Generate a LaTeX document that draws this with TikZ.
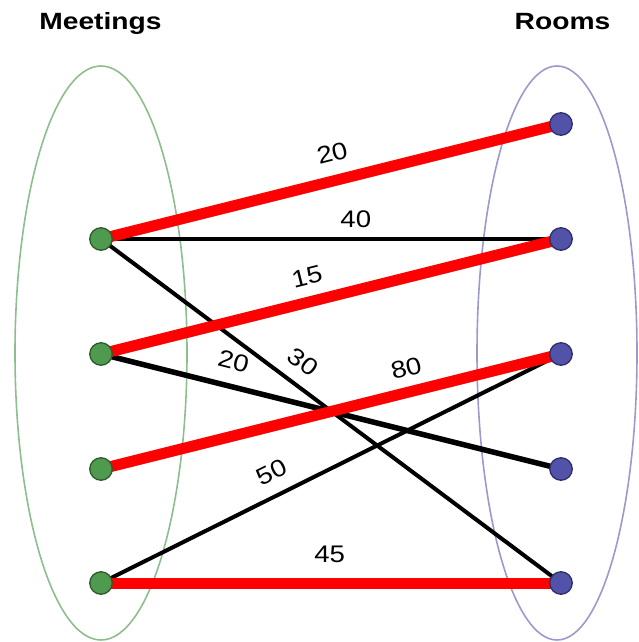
\documentclass[tikz,border=0pt]{standalone}
\usepackage{fontspec}
\setmainfont{Liberation Sans}
\definecolor{setgreen}{HTML}{8DBE8D}
\definecolor{setblue}{HTML}{9A9ACC}
\definecolor{meetfill}{HTML}{4E9A4E}
\definecolor{meetline}{HTML}{2E5A2E}
\definecolor{roomfill}{HTML}{5252A8}
\definecolor{roomline}{HTML}{2E2E6A}
\definecolor{matchred}{HTML}{FF0000}
\begin{document}
\begin{tikzpicture}[x=1pt,y=-1pt,
  meeting/.style={circle, fill=meetfill, draw=meetline, line width=1.3pt, minimum size=22.5pt, inner sep=0pt},
  room/.style={circle, fill=roomfill, draw=roomline, line width=1.3pt, minimum size=22.5pt, inner sep=0pt},
  matched/.style={draw=matchred, line width=11pt},
  unmatched/.style={draw=black, line width=4pt},
  weight/.style={font=\fontsize{24}{24}\selectfont, inner sep=0pt, sloped, xscale=1.15},
  title/.style={font=\bfseries\fontsize{23.5}{24}\selectfont, anchor=base, inner sep=0pt, xscale=1.2}
]
\useasboundingbox (0,0) rectangle (639,642);

% headings
\node[title] (tm) at (100.5,29.3) {Meetings};
\node[title] (tr) at (562.5,29.3) {Rooms};

% the two vertex sets
\draw[setgreen, line width=1.6pt] (101,353) ellipse [x radius=86, y radius=287];
\draw[setblue, line width=1.6pt] (557,353) ellipse [x radius=80, y radius=287];

% vertices
\coordinate (m1) at (101,239);
\coordinate (m2) at (101,354);
\coordinate (m3) at (101,469);
\coordinate (m4) at (101,583);
\coordinate (r1) at (561,124);
\coordinate (r2) at (561,239);
\coordinate (r3) at (561,354);
\coordinate (r4) at (561,469);
\coordinate (r5) at (561,583);

% edges not in the matching
\draw[unmatched] (m1) -- node[weight, pos=0.554, above=9.5pt] (w40) {40} (r2);
\draw[unmatched] (m1) -- node[weight, pos=0.41, above=12pt] (w30) {30} (r5);
\draw[unmatched, line width=5.5pt] (m2) -- node[weight, pos=0.275, above=14pt] (w20b) {20} (r4);
\draw[unmatched] (m4) -- node[weight, pos=0.394, above=12.6pt] (w50) {50} (r3);

% matching edges
\draw[matched] (m1) -- node[weight, pos=0.517, above=13.2pt] (w20a) {20} (r1);
\draw[matched] (m2) -- node[weight, pos=0.461, above=11.2pt] (w15) {15} (r2);
\draw[matched] (m3) -- node[weight, pos=0.676, above=9.8pt] (w80) {80} (r3);
\draw[matched] (m4) -- node[weight, pos=0.497, above=15pt] (w45) {45} (r5);

% vertex discs on top of the edges
\foreach \v in {m1,m2,m3,m4} \node[meeting] (d\v) at (\v) {};
\foreach \v in {r1,r2,r3,r4,r5} \node[room] (d\v) at (\v) {};
\end{tikzpicture}
\end{document}
